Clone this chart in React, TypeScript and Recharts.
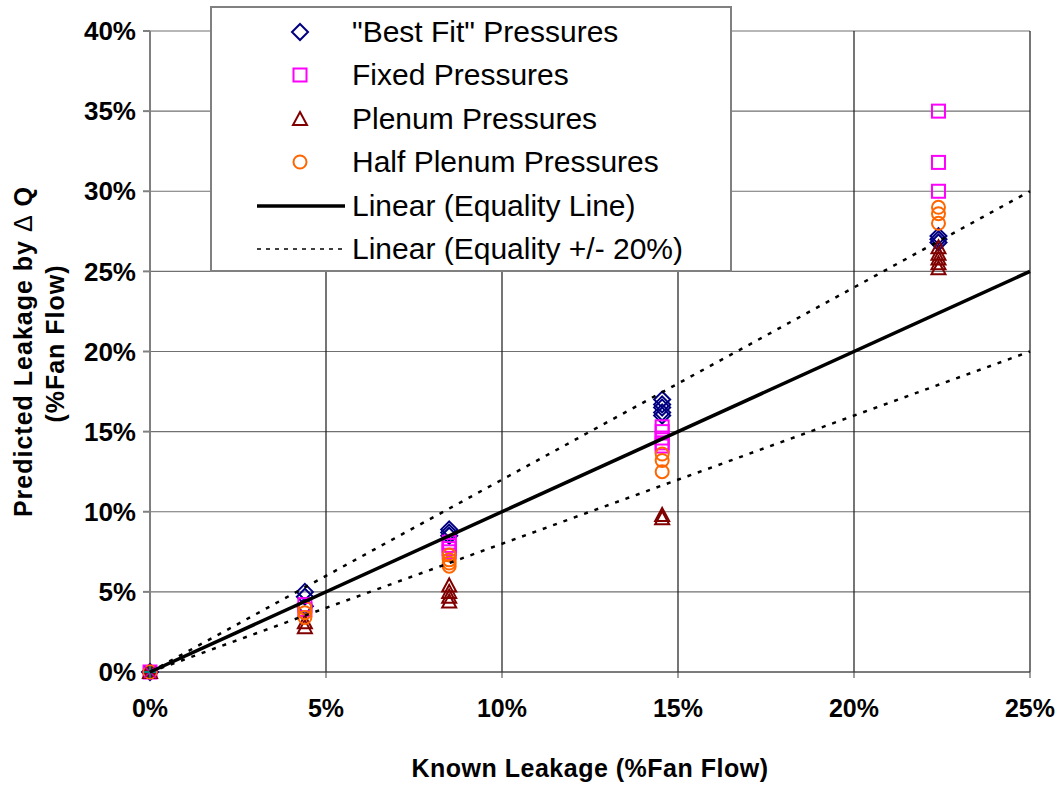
import React from "react";
import {
  ScatterChart,
  Scatter,
  XAxis,
  YAxis,
  CartesianGrid,
  Legend,
} from "recharts";

const FONT = '"Liberation Sans", Arial, Helvetica, sans-serif';

// known leakage positions (fraction of fan flow)
const knownLeakage = [0, 0.044, 0.085, 0.1455, 0.224];

// predicted leakage readings per known-leakage position
const bestFit = [[0], [0.05, 0.047, 0.041], [0.089, 0.087, 0.085], [0.17, 0.167, 0.165, 0.162, 0.16], [0.272, 0.27, 0.268]];
const fixedP = [[0], [0.042, 0.039], [0.081, 0.079, 0.077, 0.075], [0.153, 0.15, 0.146, 0.143, 0.141], [0.35, 0.318, 0.3]];
const plenum = [[0], [0.031, 0.028], [0.054, 0.05, 0.047, 0.044], [0.098, 0.096], [0.265, 0.261, 0.258, 0.255, 0.252]];
const halfPlenum = [[0], [0.04, 0.037, 0.034], [0.073, 0.07, 0.068, 0.066], [0.136, 0.132, 0.125], [0.29, 0.286, 0.28]];

const equality = [{ x: 0, y: 0 }, { x: 0.25, y: 0.25 }];
const equalityHigh = [{ x: 0, y: 0 }, { x: 0.25, y: 0.3 }];
const equalityLow = [{ x: 0, y: 0 }, { x: 0.25, y: 0.2 }];
const origin = [{ x: 0, y: 0 }];

const xTicks = [0, 0.05, 0.1, 0.15, 0.2, 0.25];
const yTicks = [0, 0.05, 0.1, 0.15, 0.2, 0.25, 0.3, 0.35, 0.4];

const toPoints = (groups: number[][]) =>
  groups.flatMap((vals, i) => vals.map((y) => ({ x: knownLeakage[i], y })));

const pct = (v: number) => `${Math.round(v * 100)}%`;

const NAVY = "#000080";
const MAGENTA = "#FF00FF";
const MAROON = "#800000";
const ORANGE = "#FF6600";

function Diamond({ cx, cy, c = NAVY }: any) {
  return <path d={`M${cx},${cy - 8}L${cx + 8},${cy}L${cx},${cy + 8}L${cx - 8},${cy}Z`} fill="none" stroke={c} strokeWidth={2} />;
}
function Square({ cx, cy, c = MAGENTA }: any) {
  return <rect x={cx - 6.5} y={cy - 6.5} width={13} height={13} fill="none" stroke={c} strokeWidth={2} />;
}
function Triangle({ cx, cy, c = MAROON }: any) {
  return <path d={`M${cx},${cy - 7}L${cx + 7},${cy + 6}L${cx - 7},${cy + 6}Z`} fill="none" stroke={c} strokeWidth={2} />;
}
function Ring({ cx, cy, c = ORANGE }: any) {
  return <circle cx={cx} cy={cy} r={6.5} fill="none" stroke={c} strokeWidth={2} />;
}
function OriginMark({ cx, cy }: any) {
  return (
    <g>
      <circle cx={cx} cy={cy} r={6} fill={MAROON} />
      <path d={`M${cx - 6},${cy - 6}L${cx + 6},${cy + 6}M${cx - 6},${cy + 6}L${cx + 6},${cy - 6}`} stroke="#CC00CC" strokeWidth={1.5} />
      <path d={`M${cx - 6},${cy}L${cx + 6},${cy}M${cx},${cy - 6}L${cx},${cy + 6}`} stroke="#008080" strokeWidth={2} />
    </g>
  );
}
const none = () => <g />;

const legendRows = [
  { label: '"Best Fit" Pressures', icon: <Diamond cx={45} cy={10} /> },
  { label: "Fixed Pressures", icon: <Square cx={45} cy={10} /> },
  { label: "Plenum Pressures", icon: <Triangle cx={45} cy={10} /> },
  { label: "Half Plenum Pressures", icon: <Ring cx={45} cy={10} /> },
  { label: "Linear (Equality Line)", icon: <line x1={2} y1={10} x2={90} y2={10} stroke="#000" strokeWidth={3.5} /> },
  { label: "Linear (Equality +/- 20%)", icon: <line x1={2} y1={10} x2={90} y2={10} stroke="#000" strokeWidth={1.5} strokeDasharray="4 5" /> },
];

function LegendBox() {
  return (
    <div style={{ background: "#fff", border: "2px solid #808080", boxSizing: "border-box", width: 522, height: 266, paddingTop: 2 }}>
      {legendRows.map((r) => (
        <div key={r.label} style={{ display: "flex", alignItems: "center", height: 43.5 }}>
          <svg width={100} height={20} style={{ marginLeft: 43 }}>{r.icon}</svg>
          <span style={{ fontFamily: FONT, fontSize: 30, color: "#000", marginLeft: -3, whiteSpace: "nowrap" }}>{r.label}</span>
        </div>
      ))}
    </div>
  );
}

export default function App() {
  return (
    <div style={{ position: "absolute", left: 0, top: 0, background: "#fff" }}>
      <ScatterChart width={1062} height={786} margin={{ top: 31, right: 32, bottom: 0, left: 0 }}>
        <CartesianGrid vertical={false} stroke="#707070" strokeWidth={1.2} />
        <CartesianGrid horizontal={false} stroke="#1a1a1a" strokeWidth={1.2} />
        <XAxis
          type="number"
          dataKey="x"
          domain={[0, 0.25]}
          ticks={xTicks}
          tickFormatter={pct}
          height={114}
          tickSize={6}
          tickMargin={21}
          stroke="#404040"
          tick={{ fontSize: 25, fontWeight: "bold", fill: "#000", fontFamily: FONT }}
          label={(p: any) => {
            const vb = p.viewBox;
            return (
              <text x={vb.x + vb.width / 2} y={vb.y + 105} textAnchor="middle" fontSize={25} fontWeight="bold" letterSpacing={0.5} fontFamily={FONT} fill="#000">
                Known Leakage (%Fan Flow)
              </text>
            );
          }}
        />
        <YAxis
          type="number"
          dataKey="y"
          domain={[0, 0.4]}
          ticks={yTicks}
          tickFormatter={pct}
          width={150}
          tickSize={7}
          tickMargin={7}
          stroke="#808080"
          strokeWidth={2}
          tick={{ fontSize: 26, fontWeight: "bold", fill: "#000", fontFamily: FONT }}
          label={(p: any) => {
            const vb = p.viewBox;
            const cy = vb.y + vb.height / 2;
            return (
              <g fontFamily={FONT} fontSize={25} fontWeight="bold" fill="#000" letterSpacing={1}>
                <text x={32} y={cy} textAnchor="middle" transform={`rotate(-90, 32, ${cy})`}>
                  Predicted Leakage by <tspan fontWeight="normal">Δ</tspan> Q
                </text>
                <text x={64} y={cy - 8} textAnchor="middle" transform={`rotate(-90, 64, ${cy - 8})`}>
                  (%Fan Flow)
                </text>
              </g>
            );
          }}
        />
        <Legend content={() => <LegendBox />} layout="horizontal" verticalAlign="middle" align="center" wrapperStyle={{ left: 210, top: 6, width: 522 }} />
        <Scatter name='"Best Fit" Pressures' data={toPoints(bestFit)} shape={<Diamond />} isAnimationActive={false} />
        <Scatter name="Fixed Pressures" data={toPoints(fixedP)} shape={<Square />} isAnimationActive={false} />
        <Scatter name="Plenum Pressures" data={toPoints(plenum)} shape={<Triangle />} isAnimationActive={false} />
        <Scatter name="Half Plenum Pressures" data={toPoints(halfPlenum)} shape={<Ring />} isAnimationActive={false} />
        <Scatter name="origin" data={origin} shape={<OriginMark />} isAnimationActive={false} legendType="none" />
        <Scatter name="Linear (Equality Line)" data={equality} line={{ stroke: "#000", strokeWidth: 3.5 }} shape={none} isAnimationActive={false} />
        <Scatter name="Linear (Equality +20%)" data={equalityHigh} line={{ stroke: "#000", strokeWidth: 2.5, strokeDasharray: "4 7" }} shape={none} isAnimationActive={false} />
        <Scatter name="Linear (Equality -20%)" data={equalityLow} line={{ stroke: "#000", strokeWidth: 2.5, strokeDasharray: "4 7" }} shape={none} isAnimationActive={false} />
      </ScatterChart>
    </div>
  );
}
